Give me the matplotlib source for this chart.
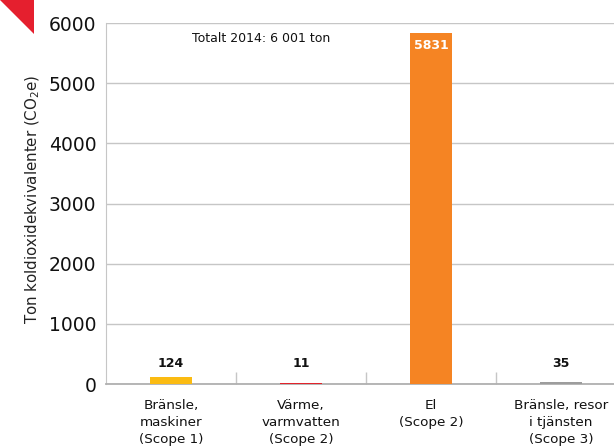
import matplotlib

matplotlib.use("Agg")
import matplotlib.pyplot as plt
from matplotlib.patches import Polygon

plt.rcParams["font.family"] = ["DejaVu Sans"]

CATEGORIES = [
    "Bränsle,\nmaskiner\n(Scope 1)",
    "Värme,\nvarmvatten\n(Scope 2)",
    "El\n(Scope 2)",
    "Bränsle, resor\ni tjänsten\n(Scope 3)",
]
VALUES = [124, 11, 5831, 35]
COLORS = ["#fbbb12", "#e2242b", "#f58423", "#9d9d9d"]
Y_TICKS = [0, 1000, 2000, 3000, 4000, 5000, 6000]
TOTAL_NOTE = "Totalt 2014: 6 001 ton"

GRID = "#c6c6c6"

fig = plt.figure(figsize=(6.14, 4.48), dpi=100)
# plot area runs a little past the right edge of the canvas
ax = fig.add_axes([106 / 614, 64 / 448, 520 / 614, 361 / 448])

x = list(range(len(CATEGORIES)))
ax.bar(x, VALUES, width=0.323, color=COLORS, zorder=3)

ax.set_xlim(-0.5, len(CATEGORIES) - 0.5)
ax.set_ylim(0, 6000)
ax.set_yticks(Y_TICKS)
ax.set_yticklabels([str(t) for t in Y_TICKS], fontsize=13.5, color="#111111")
ax.tick_params(axis="y", length=0, pad=7)

# category labels under the bars, boundary ticks between them
ax.set_xticks(x)
ax.set_xticklabels(CATEGORIES, fontsize=9.7, linespacing=1.4, color="#111111")
ax.tick_params(axis="x", which="major", length=0, pad=11)
ax.set_xticks([i + 0.5 for i in x[:-1]], minor=True)
ax.tick_params(axis="x", which="minor", direction="in", length=9, color=GRID, width=1)

ax.yaxis.grid(True, color=GRID, linewidth=1, zorder=0)
for side in ("top", "right"):
    ax.spines[side].set_visible(False)
ax.spines["left"].set_color(GRID)
ax.spines["bottom"].set_color("#b0b0b0")
ax.spines["bottom"].set_linewidth(1.3)

# small values share one label row just above the tallest short bar
small_row = max(v for v in VALUES if v < 3000) + 225
for xi, v in zip(x, VALUES):
    if v > 3000:
        ax.text(xi, v - 100, str(v), ha="center", va="top", color="white",
                fontsize=9, fontweight="bold", zorder=4)
    else:
        ax.text(xi, small_row, str(v), ha="center", va="center", color="#111111",
                fontsize=9, fontweight="bold", zorder=4)

ax.text(0.165, 0.958, TOTAL_NOTE, transform=ax.transAxes, fontsize=9,
        ha="left", va="center", color="#111111")

fig.text(33 / 614, 0.556, "Ton koldioxidekvivalenter (CO$_2$e)", rotation=90,
         ha="center", va="center", fontsize=10.8, color="#222222")

# corner marker
fig.patches.append(Polygon([[0, 1], [34 / 614, 1], [34 / 614, 1 - 34 / 448]],
                           closed=True, transform=fig.transFigure,
                           facecolor="#e51f2e", edgecolor="none"))

fig.savefig("out.png", dpi=100)
